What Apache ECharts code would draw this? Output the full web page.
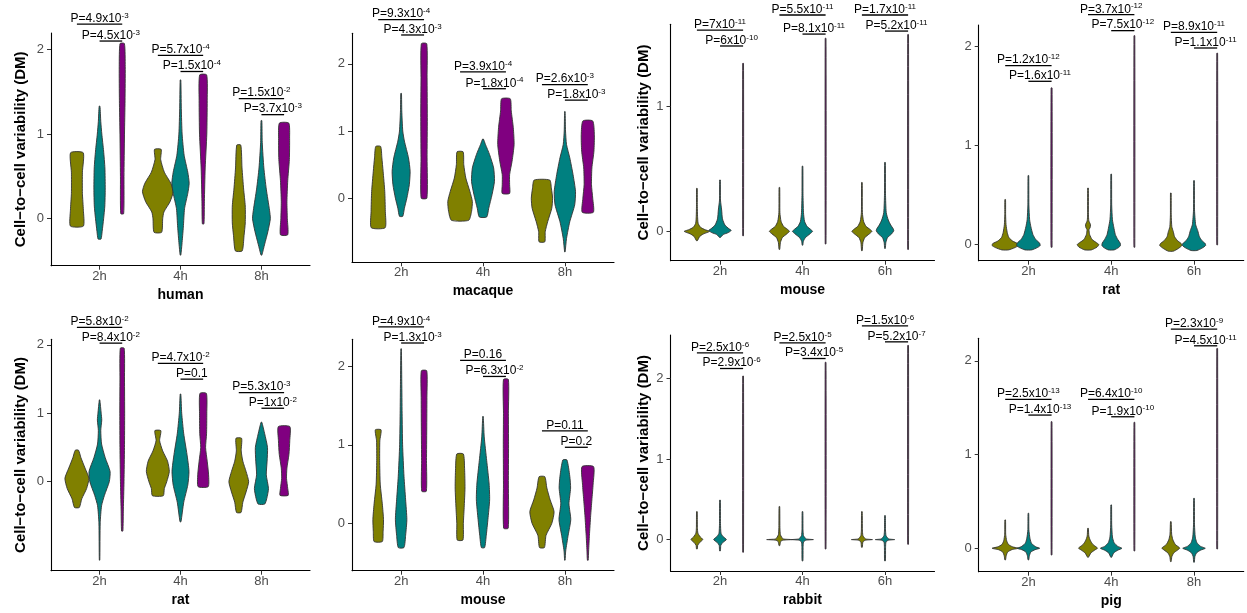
<!DOCTYPE html>
<html><head><meta charset="utf-8">
<script src="https://cdn.jsdelivr.net/npm/echarts@6/dist/echarts.min.js"></script>
<style>html,body{margin:0;padding:0;background:#fff}#c{width:1247px;height:613px}</style>
</head><body><div id="c"></div>
<script>
// ---------- DATA ----------
const timesA = ['2h', '4h', '8h'];
const timesB = ['2h', '4h', '6h'];
const speciesNames = ['human', 'macaque', 'mouse', 'rat', 'rat', 'mouse', 'rabbit', 'pig'];
const yTitle = 'Cell\u2212to\u2212cell variability (DM)';
const yTicks = [0, 1, 2];

// violin profiles per time point: [olive, teal, purple]; each = list of [DM value, half-width (category units)], top -> bottom
const humanViolins = [
  [[[0.78,0.078],[0.55,0.068],[0.3,0.068],[0.1,0.08],[-0.087,0.08]],
   [[1.33,0.005],[1.15,0.015],[1.0,0.028],[0.8,0.05],[0.6,0.066],[0.35,0.07],[0.15,0.065],[0.0,0.05],[-0.15,0.032],[-0.24,0.018]],
   [[2.07,0.027],[1.8,0.037],[1.4,0.035],[1.0,0.028],[0.5,0.022],[0.06,0.018]]],
  [[[0.82,0.041],[0.7,0.035],[0.55,0.08],[0.42,0.16],[0.32,0.19],[0.2,0.15],[0.08,0.075],[0.0,0.06],[-0.16,0.047]],
   [[1.64,0.004],[1.3,0.01],[1.0,0.02],[0.75,0.045],[0.55,0.09],[0.42,0.107],[0.3,0.09],[0.12,0.05],[-0.1,0.035],[-0.3,0.018],[-0.43,0.004]],
   [[1.70,0.043],[1.4,0.05],[1.0,0.045],[0.6,0.025],[0.2,0.015],[-0.06,0.01]]],
  [[[0.87,0.025],[0.6,0.04],[0.35,0.06],[0.15,0.08],[-0.05,0.08],[-0.2,0.065],[-0.38,0.042]],
   [[1.16,0.005],[0.9,0.01],[0.6,0.03],[0.35,0.06],[0.1,0.1],[0.0,0.11],[-0.15,0.08],[-0.3,0.04],[-0.43,0.005]],
   [[1.13,0.058],[0.95,0.068],[0.7,0.065],[0.45,0.045],[0.2,0.035],[0.0,0.04],[-0.19,0.045]]]
];
const macaqueViolins = [
  [[[0.77,0.03],[0.6,0.045],[0.4,0.06],[0.1,0.08],[-0.2,0.087],[-0.44,0.085]],
   [[1.56,0.004],[1.3,0.008],[1.0,0.02],[0.85,0.04],[0.6,0.09],[0.4,0.11],[0.2,0.1],[0.0,0.07],[-0.15,0.04],[-0.27,0.02]],
   [[2.30,0.033],[1.8,0.037],[1.2,0.04],[0.6,0.037],[0.0,0.035]]],
  [[[0.69,0.037],[0.5,0.045],[0.3,0.07],[0.1,0.12],[-0.05,0.15],[-0.2,0.14],[-0.33,0.105]],
   [[0.88,0.005],[0.8,0.03],[0.65,0.08],[0.45,0.13],[0.25,0.14],[0.05,0.11],[-0.15,0.07],[-0.28,0.045]],
   [[1.48,0.053],[1.3,0.065],[1.05,0.09],[0.8,0.1],[0.55,0.075],[0.35,0.045],[0.2,0.045],[0.07,0.045]]],
  [[[0.27,0.095],[0.15,0.115],[0.0,0.13],[-0.15,0.12],[-0.35,0.07],[-0.5,0.04],[-0.65,0.035]],
   [[1.29,0.003],[1.0,0.008],[0.8,0.02],[0.6,0.06],[0.35,0.1],[0.1,0.13],[-0.1,0.12],[-0.35,0.06],[-0.6,0.02],[-0.8,0.003]],
   [[1.15,0.06],[0.95,0.08],[0.7,0.075],[0.45,0.05],[0.2,0.045],[0.0,0.06],[-0.21,0.068]]]
];
const mouseTopViolins = [
  [[[0.343,0.004],[0.2,0.005],[0.12,0.008],[0.064,0.015],[0.032,0.045],[0.013,0.1],[0.0,0.154],[-0.02,0.08],[-0.04,0.035],[-0.074,0.006]],
   [[0.41,0.004],[0.25,0.006],[0.17,0.02],[0.1,0.03],[0.05,0.06],[0.02,0.11],[0.008,0.136],[-0.01,0.1],[-0.025,0.04],[-0.048,0.006]],
   [[1.34,0.005],[-0.035,0.005]]],
  [[[0.35,0.004],[0.15,0.006],[0.08,0.02],[0.04,0.05],[0.015,0.1],[0.0,0.122],[-0.02,0.09],[-0.05,0.035],[-0.09,0.012],[-0.144,0.004]],
   [[0.52,0.004],[0.3,0.006],[0.15,0.012],[0.08,0.025],[0.04,0.055],[0.015,0.1],[0.0,0.122],[-0.02,0.09],[-0.05,0.035],[-0.08,0.01],[-0.11,0.004]],
   [[1.54,0.005],[-0.10,0.005]]],
  [[[0.39,0.004],[0.15,0.006],[0.08,0.02],[0.04,0.05],[0.015,0.1],[0.0,0.122],[-0.02,0.09],[-0.05,0.035],[-0.09,0.012],[-0.154,0.004]],
   [[0.55,0.004],[0.3,0.006],[0.15,0.015],[0.09,0.04],[0.05,0.07],[0.02,0.1],[0.005,0.106],[-0.02,0.08],[-0.05,0.03],[-0.09,0.01],[-0.136,0.004]],
   [[1.57,0.005],[-0.144,0.005]]]
];
const ratTopViolins = [
  [[[0.454,0.004],[0.3,0.005],[0.2,0.01],[0.12,0.025],[0.07,0.045],[0.035,0.09],[0.01,0.15],[-0.01,0.158],[-0.03,0.12],[-0.054,0.04]],
   [[0.696,0.004],[0.4,0.006],[0.25,0.015],[0.18,0.03],[0.1,0.055],[0.05,0.09],[0.015,0.135],[-0.01,0.142],[-0.03,0.11],[-0.054,0.04]],
   [[1.58,0.006],[-0.027,0.006]]],
  [[[0.57,0.004],[0.3,0.005],[0.24,0.01],[0.2,0.03],[0.17,0.025],[0.15,0.012],[0.1,0.02],[0.05,0.05],[0.02,0.1],[0.0,0.13],[-0.025,0.11],[-0.054,0.04]],
   [[0.71,0.004],[0.4,0.006],[0.25,0.015],[0.18,0.03],[0.1,0.05],[0.05,0.08],[0.015,0.108],[-0.01,0.112],[-0.03,0.09],[-0.054,0.035]],
   [[2.107,0.005],[-0.027,0.005]]],
  [[[0.52,0.004],[0.3,0.005],[0.18,0.012],[0.13,0.03],[0.08,0.045],[0.04,0.08],[0.01,0.125],[-0.01,0.134],[-0.04,0.09],[-0.067,0.03]],
   [[0.645,0.004],[0.35,0.006],[0.2,0.02],[0.14,0.045],[0.08,0.065],[0.04,0.095],[0.01,0.135],[-0.01,0.14],[-0.035,0.1],[-0.06,0.035]],
   [[1.93,0.005],[-0.003,0.005]]]
];
const ratBottomViolins = [
  [[[0.46,0.02],[0.35,0.05],[0.2,0.1],[0.05,0.148],[-0.1,0.12],[-0.25,0.06],[-0.376,0.03]],
   [[1.195,0.003],[1.0,0.02],[0.9,0.027],[0.75,0.015],[0.55,0.025],[0.35,0.07],[0.15,0.13],[0.0,0.12],[-0.2,0.06],[-0.35,0.025],[-0.6,0.008],[-1.146,0.003]],
   [[1.95,0.024],[1.5,0.028],[1.0,0.03],[0.5,0.028],[0.0,0.022],[-0.4,0.014],[-0.72,0.008]]],
  [[[0.746,0.037],[0.6,0.022],[0.45,0.06],[0.3,0.12],[0.15,0.142],[0.0,0.11],[-0.1,0.08],[-0.205,0.067]],
   [[1.28,0.004],[1.0,0.015],[0.7,0.04],[0.4,0.08],[0.15,0.105],[-0.05,0.09],[-0.3,0.04],[-0.585,0.006]],
   [[1.29,0.04],[1.0,0.045],[0.7,0.042],[0.5,0.03],[0.3,0.05],[0.1,0.067],[-0.073,0.062]]],
  [[[0.634,0.035],[0.45,0.03],[0.3,0.05],[0.15,0.09],[0.0,0.122],[-0.15,0.09],[-0.3,0.05],[-0.449,0.028]],
   [[0.868,0.005],[0.7,0.04],[0.5,0.075],[0.3,0.07],[0.1,0.06],[-0.1,0.087],[-0.25,0.065],[-0.327,0.04]],
   [[0.805,0.071],[0.6,0.07],[0.4,0.06],[0.2,0.035],[0.05,0.03],[-0.1,0.045],[-0.2,0.05]]]
];
const mouseBottomViolins = [
  [[[1.19,0.035],[1.05,0.02],[0.8,0.018],[0.5,0.025],[0.25,0.05],[0.05,0.065],[-0.1,0.06],[-0.23,0.05]],
   [[2.22,0.003],[1.8,0.008],[1.4,0.012],[1.0,0.018],[0.6,0.035],[0.3,0.055],[0.05,0.07],[-0.15,0.055],[-0.306,0.035]],
   [[1.94,0.033],[1.6,0.035],[1.2,0.033],[0.8,0.03],[0.41,0.028]]],
  [[[0.883,0.04],[0.7,0.055],[0.45,0.06],[0.2,0.05],[0.0,0.04],[-0.21,0.035]],
   [[1.36,0.003],[1.1,0.015],[0.8,0.045],[0.5,0.075],[0.3,0.081],[0.05,0.06],[-0.15,0.04],[-0.306,0.02]],
   [[1.83,0.03],[1.4,0.03],[1.0,0.032],[0.5,0.03],[-0.06,0.028]]],
  [[[0.594,0.035],[0.45,0.06],[0.3,0.1],[0.15,0.148],[0.0,0.12],[-0.15,0.05],[-0.306,0.03]],
   [[0.807,0.025],[0.6,0.06],[0.45,0.07],[0.25,0.05],[0.05,0.072],[-0.15,0.04],[-0.35,0.01],[-0.467,0.003]],
   [[0.722,0.071],[0.5,0.065],[0.3,0.05],[0.1,0.035],[-0.15,0.02],[-0.35,0.01],[-0.467,0.005]]]
];
const rabbitViolins = [
  [[[0.347,0.004],[0.15,0.006],[0.08,0.012],[0.04,0.035],[0.0,0.071],[-0.035,0.035],[-0.07,0.01],[-0.116,0.005]],
   [[0.49,0.004],[0.2,0.006],[0.08,0.012],[0.04,0.035],[0.0,0.077],[-0.035,0.035],[-0.07,0.01],[-0.14,0.005]],
   [[2.03,0.005],[-0.157,0.005]]],
  [[[0.41,0.004],[0.15,0.006],[0.06,0.012],[0.03,0.028],[0.008,0.045],[0.003,0.1],[0.0,0.154],[-0.003,0.1],[-0.008,0.04],[-0.025,0.015],[-0.074,0.005]],
   [[0.347,0.004],[0.12,0.006],[0.05,0.012],[0.025,0.028],[0.008,0.045],[0.003,0.09],[0.0,0.132],[-0.003,0.09],[-0.008,0.04],[-0.03,0.012],[-0.1,0.007],[-0.264,0.005]],
   [[2.20,0.005],[-0.116,0.005]]],
  [[[0.347,0.004],[0.12,0.006],[0.05,0.012],[0.025,0.028],[0.008,0.045],[0.003,0.09],[0.0,0.128],[-0.003,0.09],[-0.008,0.04],[-0.03,0.012],[-0.095,0.005]],
   [[0.298,0.004],[0.12,0.006],[0.05,0.012],[0.025,0.028],[0.008,0.045],[0.003,0.085],[0.0,0.118],[-0.003,0.085],[-0.008,0.04],[-0.03,0.012],[-0.1,0.007],[-0.264,0.005]],
   [[2.41,0.005],[-0.058,0.005]]]
];
const pigViolins = [
  [[[0.302,0.004],[0.15,0.006],[0.08,0.018],[0.04,0.04],[0.015,0.09],[0.0,0.158],[-0.015,0.08],[-0.04,0.03],[-0.08,0.012],[-0.124,0.004]],
   [[0.373,0.004],[0.2,0.006],[0.1,0.02],[0.05,0.04],[0.015,0.09],[0.0,0.136],[-0.015,0.08],[-0.04,0.03],[-0.08,0.012],[-0.124,0.004]],
   [[1.35,0.005],[-0.071,0.005]]],
  [[[0.213,0.004],[0.13,0.01],[0.08,0.03],[0.04,0.06],[0.01,0.105],[0.0,0.114],[-0.02,0.08],[-0.05,0.035],[-0.096,0.005]],
   [[0.462,0.004],[0.25,0.006],[0.12,0.015],[0.06,0.035],[0.02,0.08],[0.0,0.13],[-0.02,0.08],[-0.05,0.03],[-0.096,0.005]],
   [[1.343,0.005],[-0.028,0.005]]],
  [[[0.284,0.004],[0.15,0.01],[0.09,0.025],[0.04,0.055],[0.01,0.1],[0.0,0.108],[-0.02,0.08],[-0.05,0.035],[-0.09,0.012],[-0.142,0.004]],
   [[0.533,0.004],[0.25,0.006],[0.12,0.015],[0.06,0.035],[0.02,0.08],[0.0,0.136],[-0.02,0.08],[-0.05,0.03],[-0.09,0.01],[-0.149,0.004]],
   [[2.131,0.005],[-0.007,0.005]]]
];

// P-values per time point: [olive vs purple, teal vs purple]
const humanP = [['4.9x10^-3','4.5x10^-3'],['5.7x10^-4','1.5x10^-4'],['1.5x10^-2','3.7x10^-3']];
const macaqueP = [['9.3x10^-4','4.3x10^-3'],['3.9x10^-4','1.8x10^-4'],['2.6x10^-3','1.8x10^-3']];
const mouseTopP = [['7x10^-11','6x10^-10'],['5.5x10^-11','8.1x10^-11'],['1.7x10^-11','5.2x10^-11']];
const ratTopP = [['1.2x10^-12','1.6x10^-11'],['3.7x10^-12','7.5x10^-12'],['8.9x10^-11','1.1x10^-11']];
const ratBottomP = [['5.8x10^-2','8.4x10^-2'],['4.7x10^-2','0.1'],['5.3x10^-3','1x10^-2']];
const mouseBottomP = [['4.9x10^-4','1.3x10^-3'],['0.16','6.3x10^-2'],['0.11','0.2']];
const rabbitP = [['2.5x10^-6','2.9x10^-6'],['2.5x10^-5','3.4x10^-5'],['1.5x10^-6','5.2x10^-7']];
const pigP = [['2.5x10^-13','1.4x10^-13'],['6.4x10^-10','1.9x10^-10'],['2.3x10^-9','4.5x10^-11']];

// bracket heights (DM units) per time point: [olive-purple, teal-purple]
const humanBr = [[2.30,2.10],[1.93,1.74],[1.42,1.23]];
const macaqueBr = [[2.66,2.43],[1.88,1.63],[1.69,1.46]];
const mouseTopBr = [[1.606,1.479],[1.726,1.574],[1.726,1.598]];
const ratTopBr = [[1.805,1.647],[2.319,2.158],[2.141,1.983]];
const ratBottomBr = [[2.254,2.024],[1.727,1.498],[1.302,1.073]];
const mouseBottomBr = [[2.497,2.293],[2.072,1.868],[1.176,0.968]];
const rabbitBr = [[2.318,2.124],[2.442,2.248],[2.653,2.455]];
const pigBr = [[1.588,1.421],[1.588,1.403],[2.337,2.16]];

// y-axis ranges per panel
const yRanges = [[-0.555,2.195],[-0.955,2.455],[-0.234,1.652],[-0.163,2.215],[-1.30,2.08],[-0.60,2.34],[-0.39,2.54],[-0.25,2.24]];

// ---------- LAYOUT / RENDER ----------
const FONT = '"Liberation Sans", Arial, Helvetica, sans-serif';
const COLORS = ['#808000', '#008080', '#800080'];
const DODGE = 0.28;
const panels = [
  {v: humanViolins, p: humanP, b: humanBr, t: timesA, grid: {left: 51, top: 33, width: 259, height: 232.7}, yName: true, gap: 23},
  {v: macaqueViolins, p: macaqueP, b: macaqueBr, t: timesA, grid: {left: 352, top: 33.3, width: 262, height: 229}},
  {v: mouseTopViolins, p: mouseTopP, b: mouseTopBr, t: timesB, grid: {left: 670.5, top: 24.3, width: 264, height: 236.4}, yName: true, gap: 19},
  {v: ratTopViolins, p: ratTopP, b: ratTopBr, t: timesB, grid: {left: 978.7, top: 25, width: 265, height: 235.7}},
  {v: ratBottomViolins, p: ratBottomP, b: ratBottomBr, t: timesA, grid: {left: 51, top: 339.3, width: 259, height: 231.4}, yName: true, gap: 23},
  {v: mouseBottomViolins, p: mouseBottomP, b: mouseBottomBr, t: timesA, grid: {left: 352, top: 339.3, width: 262, height: 231.4}},
  {v: rabbitViolins, p: rabbitP, b: rabbitBr, t: timesB, grid: {left: 670.5, top: 335, width: 264, height: 236}, yName: true, gap: 19},
  {v: pigViolins, p: pigP, b: pigBr, t: timesA, grid: {left: 978.7, top: 338.3, width: 265, height: 233.4}}
];

function richP(s) {
  const parts = s.split('^');
  return parts.length > 1 ? '{m|P=' + parts[0] + '}{s|' + parts[1] + '}' : '{m|P=' + parts[0] + '}';
}
const RICH = {
  m: {fontSize: 12, fontFamily: FONT, lineHeight: 14, fill: '#000', color: '#000'},
  s: {fontSize: 8, fontFamily: FONT, lineHeight: 9, verticalAlign: 'top', fill: '#000', color: '#000'}
};

const grids = [], xAxes = [], yAxes = [], series = [];
panels.forEach((pn, i) => {
  grids.push(Object.assign({outerBoundsMode: 'none', containLabel: false}, pn.grid));
  xAxes.push({
    gridIndex: i, type: 'value', min: 0.4, max: 3.6,
    axisLine: {show: true, onZero: false, lineStyle: {color: '#000', width: 1.1}},
    axisTick: {show: true, customValues: [1, 2, 3], length: 4, lineStyle: {color: '#333', width: 1}},
    axisLabel: {customValues: [1, 2, 3], formatter: v => pn.t[Math.round(v) - 1], color: '#4d4d4d', fontSize: 13, fontFamily: FONT, margin: 4},
    splitLine: {show: false},
    name: speciesNames[i], nameLocation: 'middle', nameGap: 22,
    nameTextStyle: {fontWeight: 'bold', fontSize: 14, color: '#000', fontFamily: FONT}
  });
  yAxes.push({
    gridIndex: i, type: 'value', min: yRanges[i][0], max: yRanges[i][1],
    axisLine: {show: true, onZero: false, lineStyle: {color: '#000', width: 1.1}},
    axisTick: {show: true, customValues: yTicks, length: 4, lineStyle: {color: '#333', width: 1}},
    axisLabel: {customValues: yTicks, color: '#4d4d4d', fontSize: 13, fontFamily: FONT, margin: 7},
    splitLine: {show: false},
    name: pn.yName ? yTitle : '', nameLocation: 'middle', nameGap: pn.gap || 20,
    nameTextStyle: {fontWeight: 'bold', fontSize: 15, color: '#000', fontFamily: FONT}
  });
  // violins
  const items = [];
  pn.v.forEach((grp, ti) => grp.forEach((prof, gi) => items.push({x: ti + 1 + (gi - 1) * DODGE, g: gi, prof})));
  series.push({
    type: 'custom', xAxisIndex: i, yAxisIndex: i, clip: false, silent: true,
    data: items.map(d => [d.x, d.prof[0][0]]),
    renderItem(params, api) {
      const d = items[params.dataIndex];
      const left = d.prof.map(([y, w]) => api.coord([d.x - w, y]));
      const right = d.prof.slice().reverse().map(([y, w]) => api.coord([d.x + w, y]));
      return {type: 'polygon', shape: {points: left.concat(right), smooth: 0.2},
        style: {fill: COLORS[d.g], stroke: '#333', lineWidth: 0.9}};
    }
  });
  // significance brackets
  series.push({
    type: 'custom', xAxisIndex: i, yAxisIndex: i, clip: false, silent: true,
    data: pn.b.map((yy, ti) => [ti + 1, yy[0], yy[1]]),
    renderItem(params, api) {
      const c = api.value(0), y1 = api.value(1), y2 = api.value(2);
      const a = api.coord([c - DODGE, y1]), b = api.coord([c + DODGE, y1]);
      const m = api.coord([c, y2]), n = api.coord([c + DODGE, y2]);
      const pv = pn.p[params.dataIndex];
      const line = (p, q) => ({type: 'line', shape: {x1: p[0], y1: p[1], x2: q[0], y2: q[1]}, style: {stroke: '#000', lineWidth: 1.3}});
      const txt = (x, y, s) => ({type: 'text', x: x, y: y + 1.5,
        style: {text: richP(s), rich: RICH, align: 'center', verticalAlign: 'bottom', fill: '#000', fontSize: 12, fontFamily: FONT}});
      return {type: 'group', children: [
        line(a, b), txt((a[0] + b[0]) / 2, a[1], pv[0]),
        line(m, n), txt((m[0] + n[0]) / 2, m[1], pv[1])
      ]};
    }
  });
});

const chart = echarts.init(document.getElementById('c'), null, {renderer: 'canvas'});
chart.setOption({
  animation: false,
  backgroundColor: '#fff',
  grid: grids, xAxis: xAxes, yAxis: yAxes, series: series
});
</script></body></html>
